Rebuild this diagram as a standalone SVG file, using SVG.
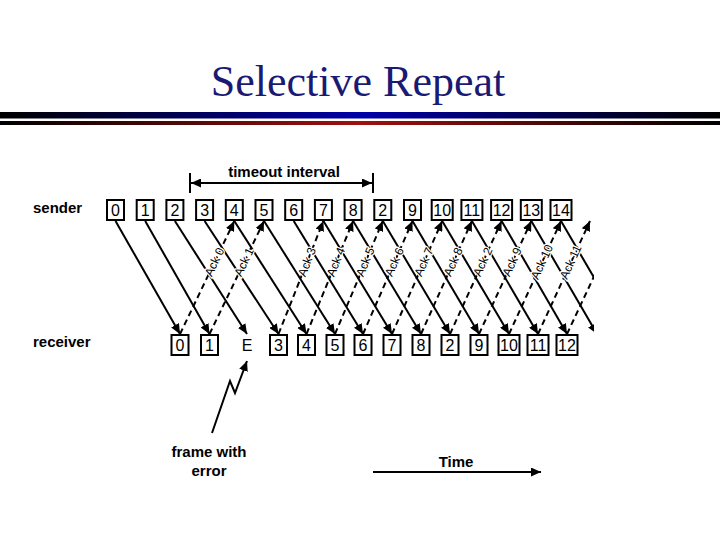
<svg xmlns="http://www.w3.org/2000/svg" width="720" height="540" viewBox="0 0 720 540">
<defs>
<style>
.box{fill:#fff;stroke:#000;stroke-width:2}
.num{font-family:"Liberation Sans",Arial,sans-serif;font-size:16px;fill:#000;text-anchor:middle}
.lbl{font-family:"Liberation Sans",Arial,sans-serif;font-size:15px;font-weight:bold;fill:#000}
.frame{stroke:#000;stroke-width:2;fill:none;marker-end:url(#ah)}
.ack{stroke:#000;stroke-width:2;fill:none;stroke-dasharray:6 4;marker-end:url(#ah)}
.acklbl{font-family:"Liberation Sans",Arial,sans-serif;font-size:12px;fill:#000;text-anchor:middle;dominant-baseline:central;stroke:#fff;stroke-width:2.5;paint-order:stroke}
</style>
<marker id="ah" markerUnits="userSpaceOnUse" markerWidth="11" markerHeight="9" refX="10" refY="4.5" orient="auto">
<path d="M0,0 L10,4.5 L0,9 z" fill="#000"/>
</marker>
<marker id="ah2" markerUnits="userSpaceOnUse" markerWidth="11" markerHeight="9" refX="10" refY="4.5" orient="auto-start-reverse">
<path d="M0,0 L10,4.5 L0,9 z" fill="#000"/>
</marker>
<linearGradient id="gblue" x1="0" y1="0" x2="1" y2="0">
<stop offset="0" stop-color="#000"/>
<stop offset="0.5" stop-color="#0000a8"/>
<stop offset="1" stop-color="#000"/>
</linearGradient>
<linearGradient id="gred" x1="0" y1="0" x2="1" y2="0">
<stop offset="0" stop-color="#000"/>
<stop offset="0.5" stop-color="#a01010"/>
<stop offset="1" stop-color="#000"/>
</linearGradient>
<clipPath id="clipR"><rect x="0" y="0" width="594" height="540"/></clipPath>
</defs>
<rect width="720" height="540" fill="#fff"/>
<g id="title">
<text x="358" y="96" font-family="'Liberation Serif','Times New Roman',serif" font-size="44" fill="#1a1a73" text-anchor="middle">Selective Repeat</text>
<rect x="0" y="112" width="720" height="6.5" fill="url(#gblue)"/>
<rect x="0" y="121" width="720" height="4" fill="url(#gred)"/>
</g>
<g id="labels">
<text class="lbl" x="33" y="213">sender</text>
<text class="lbl" x="33" y="347">receiver</text>
<text class="lbl" x="284" y="177" text-anchor="middle">timeout interval</text>
<text class="lbl" x="209" y="457" text-anchor="middle">frame with</text>
<text class="lbl" x="209" y="476" text-anchor="middle">error</text>
<text class="lbl" x="456" y="467" text-anchor="middle">Time</text>
</g>
<g id="timeout-marker">
<line x1="190" y1="173" x2="190" y2="193" stroke="#000" stroke-width="2"/>
<line x1="373" y1="173" x2="373" y2="193" stroke="#000" stroke-width="2"/>
<line x1="191" y1="183" x2="372" y2="183" stroke="#000" stroke-width="2" marker-start="url(#ah2)" marker-end="url(#ah2)"/>
</g>
<g id="sender-frames">
<g id="s0"><rect class="box" x="107" y="200" width="17" height="20"/><text class="num" x="115.5" y="216">0</text></g>
<g id="s1"><rect class="box" x="136.7" y="200" width="17" height="20"/><text class="num" x="145.2" y="216">1</text></g>
<g id="s2"><rect class="box" x="166.4" y="200" width="17" height="20"/><text class="num" x="174.9" y="216">2</text></g>
<g id="s3"><rect class="box" x="196.1" y="200" width="17" height="20"/><text class="num" x="204.6" y="216">3</text></g>
<g id="s4"><rect class="box" x="225.8" y="200" width="17" height="20"/><text class="num" x="234.3" y="216">4</text></g>
<g id="s5"><rect class="box" x="255.5" y="200" width="17" height="20"/><text class="num" x="264" y="216">5</text></g>
<g id="s6"><rect class="box" x="285.2" y="200" width="17" height="20"/><text class="num" x="293.7" y="216">6</text></g>
<g id="s7"><rect class="box" x="314.9" y="200" width="17" height="20"/><text class="num" x="323.4" y="216">7</text></g>
<g id="s8"><rect class="box" x="344.6" y="200" width="17" height="20"/><text class="num" x="353.1" y="216">8</text></g>
<g id="s2r"><rect class="box" x="374.3" y="200" width="17" height="20"/><text class="num" x="382.8" y="216">2</text></g>
<g id="s9"><rect class="box" x="404" y="200" width="17" height="20"/><text class="num" x="412.5" y="216">9</text></g>
<g id="s10"><rect class="box" x="431.7" y="200" width="21" height="20"/><text class="num" x="442.2" y="216">10</text></g>
<g id="s11"><rect class="box" x="461.4" y="200" width="21" height="20"/><text class="num" x="471.9" y="216">11</text></g>
<g id="s12"><rect class="box" x="491.1" y="200" width="21" height="20"/><text class="num" x="501.6" y="216">12</text></g>
<g id="s13"><rect class="box" x="520.8" y="200" width="21" height="20"/><text class="num" x="531.3" y="216">13</text></g>
<g id="s14"><rect class="box" x="550.5" y="200" width="21" height="20"/><text class="num" x="561" y="216">14</text></g>
</g>
<g id="receiver-frames">
<g id="r0"><rect class="box" x="171.5" y="335" width="17" height="20"/><text class="num" x="180" y="351">0</text></g>
<g id="r1"><rect class="box" x="201" y="335" width="17" height="20"/><text class="num" x="209.5" y="351">1</text></g>
<g id="rE"><text class="num" x="247" y="351">E</text></g>
<g id="r3"><rect class="box" x="270" y="335" width="17" height="20"/><text class="num" x="278.5" y="351">3</text></g>
<g id="r4"><rect class="box" x="298" y="335" width="17" height="20"/><text class="num" x="306.5" y="351">4</text></g>
<g id="r5"><rect class="box" x="326.5" y="335" width="17" height="20"/><text class="num" x="335" y="351">5</text></g>
<g id="r6"><rect class="box" x="354.5" y="335" width="17" height="20"/><text class="num" x="363" y="351">6</text></g>
<g id="r7"><rect class="box" x="383.5" y="335" width="17" height="20"/><text class="num" x="392" y="351">7</text></g>
<g id="r8"><rect class="box" x="412.5" y="335" width="17" height="20"/><text class="num" x="421" y="351">8</text></g>
<g id="r2"><rect class="box" x="441.5" y="335" width="17" height="20"/><text class="num" x="450" y="351">2</text></g>
<g id="r9"><rect class="box" x="470.5" y="335" width="17" height="20"/><text class="num" x="479" y="351">9</text></g>
<g id="r10"><rect class="box" x="498.5" y="335" width="21" height="20"/><text class="num" x="509" y="351">10</text></g>
<g id="r11"><rect class="box" x="527.5" y="335" width="21" height="20"/><text class="num" x="538" y="351">11</text></g>
<g id="r12"><rect class="box" x="556.5" y="335" width="21" height="20"/><text class="num" x="567" y="351">12</text></g>
</g>
<g id="connectors" clip-path="url(#clipR)">
<line class="frame" x1="115.5" y1="221" x2="180" y2="334"/>
<line class="frame" x1="145.2" y1="221" x2="209.5" y2="334"/>
<line class="frame" x1="174.9" y1="221" x2="247" y2="334"/>
<line class="frame" x1="204.6" y1="221" x2="278.5" y2="334"/>
<line class="frame" x1="234.3" y1="221" x2="306.5" y2="334"/>
<line class="frame" x1="264" y1="221" x2="335" y2="334"/>
<line class="frame" x1="293.7" y1="221" x2="363" y2="334"/>
<line class="frame" x1="323.4" y1="221" x2="392" y2="334"/>
<line class="frame" x1="353.1" y1="221" x2="421" y2="334"/>
<line class="frame" x1="382.8" y1="221" x2="450" y2="334"/>
<line class="frame" x1="412.5" y1="221" x2="479" y2="334"/>
<line class="frame" x1="442.2" y1="221" x2="509" y2="334"/>
<line class="frame" x1="471.9" y1="221" x2="538" y2="334"/>
<line class="frame" x1="501.6" y1="221" x2="567" y2="334"/>
<line class="frame" x1="531.3" y1="221" x2="597" y2="334"/>
<line class="frame" x1="561" y1="221" x2="627" y2="334"/>
<line class="ack" x1="180" y1="334" x2="234.3" y2="221"/>
<line class="ack" x1="209.5" y1="334" x2="264" y2="221"/>
<line class="ack" x1="278.5" y1="334" x2="323.4" y2="221"/>
<line class="ack" x1="306.5" y1="334" x2="353.1" y2="221"/>
<line class="ack" x1="335" y1="334" x2="382.8" y2="221"/>
<line class="ack" x1="363" y1="334" x2="412.5" y2="221"/>
<line class="ack" x1="392" y1="334" x2="442.2" y2="221"/>
<line class="ack" x1="421" y1="334" x2="471.9" y2="221"/>
<line class="ack" x1="450" y1="334" x2="501.6" y2="221"/>
<line class="ack" x1="479" y1="334" x2="531.3" y2="221"/>
<line class="ack" x1="509" y1="334" x2="561" y2="221"/>
<line class="ack" x1="538" y1="334" x2="590" y2="221"/>
<line class="ack" x1="567" y1="334" x2="620" y2="221"/>
<g id="ack-labels">
<text class="acklbl" transform="translate(214.5,262) rotate(-64.5)">Ack 0</text>
<text class="acklbl" transform="translate(244.1,262) rotate(-64.5)">Ack 1</text>
<text class="acklbl" transform="translate(307,262) rotate(-68.5)">Ack 3</text>
<text class="acklbl" transform="translate(336,262) rotate(-67.8)">Ack 4</text>
<text class="acklbl" transform="translate(365.3,262) rotate(-67.3)">Ack 5</text>
<text class="acklbl" transform="translate(394.4,262) rotate(-66.6)">Ack 6</text>
<text class="acklbl" transform="translate(423.9,262) rotate(-66.3)">Ack 7</text>
<text class="acklbl" transform="translate(453.3,262) rotate(-65.9)">Ack 8</text>
<text class="acklbl" transform="translate(482.8,262) rotate(-65.7)">Ack 2</text>
<text class="acklbl" transform="translate(512.2,262) rotate(-65.4)">Ack 9</text>
<text class="acklbl" transform="translate(542,262) rotate(-65.5)">Ack 10</text>
<text class="acklbl" transform="translate(570.7,262) rotate(-65.7)">Ack 11</text>
</g>
</g>
<g id="error-pointer">
<polyline points="212,433 230,381 235,393 247,361" fill="none" stroke="#000" stroke-width="2" marker-end="url(#ah)"/>
</g>
<g id="time-axis">
<line x1="373" y1="472" x2="541" y2="472" stroke="#000" stroke-width="2" marker-end="url(#ah)"/>
</g>
</svg>
